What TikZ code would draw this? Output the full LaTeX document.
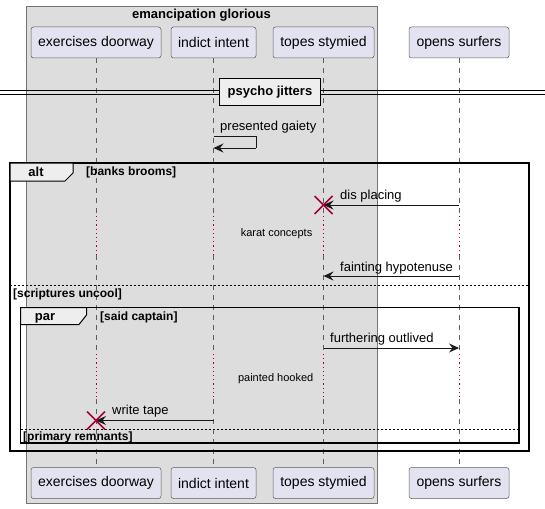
\documentclass[tikz,border=0pt]{standalone}
\usepackage{fontspec}
\setmainfont{Liberation Sans}
\usetikzlibrary{arrows.meta,calc}
\definecolor{partfill}{HTML}{E2E2F0}
\definecolor{boxfill}{HTML}{DDDDDD}
\definecolor{tabfill}{HTML}{EEEEEE}
\definecolor{lineclr}{HTML}{181818}
\definecolor{delayred}{HTML}{A80036}
\tikzset{
  part/.style={draw=lineclr!70, line width=0.5pt, fill=partfill, rounded corners=2.5pt,
    minimum height=31pt, inner sep=0pt, font=\fontsize{14}{16}\selectfont},
  lifeline/.style={draw=lineclr!70, line width=0.6pt, dash pattern=on 5pt off 5pt},
  delayline/.style={draw=delayred, line width=1pt, dash pattern=on 1.2pt off 3pt},
  msg/.style={draw=lineclr, line width=1pt, -{Stealth[length=10pt,width=9pt,inset=3.5pt]}},
  msgtxt/.style={font=\fontsize{13}{15}\selectfont, inner sep=0pt},
  delaytxt/.style={font=\fontsize{11}{13}\selectfont, inner sep=0pt},
  guardtxt/.style={font=\bfseries\fontsize{12}{14}\selectfont, inner sep=0pt},
  frametxt/.style={font=\bfseries\fontsize{13}{15}\selectfont, inner sep=0pt},
  frameline/.style={draw=black, line width=1.5pt},
  sepline/.style={draw=black, line width=0.8pt, dash pattern=on 2pt off 2pt},
  destroyx/.style={draw=delayred, line width=1.6pt}
}
\begin{document}
\begin{tikzpicture}[x=1pt,y=-1pt]
\useasboundingbox (0,0) rectangle (545,508);
% group box
\draw[fill=boxfill, draw=lineclr!60, line width=0.6pt] (26,6) rectangle (377,503);
\node[frametxt] (boxtitle) at (201.5,15) {emancipation glorious};
% participants
\node[part, minimum width=130pt] (p1t) at (96,42.5) {exercises doorway};
\node[part, minimum width=85pt] (p2t) at (213.5,42.5) {indict intent};
\node[part, minimum width=101pt] (p3t) at (323.5,42.5) {topes stymied};
\node[part, minimum width=100pt] (p4t) at (459,42.5) {opens surfers};
\node[part, minimum width=130pt] (p1b) at (96,483) {exercises doorway};
\node[part, minimum width=85pt] (p2b) at (213.5,483) {indict intent};
\node[part, minimum width=101pt] (p3b) at (323.5,483) {topes stymied};
\node[part, minimum width=100pt] (p4b) at (459,483) {opens surfers};
% lifelines
\foreach \p in {p1,p2,p3,p4}{
  \draw[lifeline] (\p t.south) -- (\p t.south |- 0,215);
  \draw[delayline] (\p t.south |- 0,216) -- (\p t.south |- 0,254);
  \draw[lifeline] (\p t.south |- 0,255) -- (\p t.south |- 0,353);
  \draw[delayline] (\p t.south |- 0,354) -- (\p t.south |- 0,398);
  \draw[lifeline] (\p t.south |- 0,399) -- (\p b.north);
}
% divider
\draw[black, line width=1pt] (0,90.5) -- (545,90.5);
\draw[black, line width=1pt] (0,94.5) -- (545,94.5);
\node[draw=black, line width=1.5pt, fill=tabfill, minimum width=101pt, minimum height=27pt,
  inner sep=0pt, font=\bfseries\fontsize{13}{15}\selectfont] (div) at (270,92) {psycho jitters};
% self message
\coordinate (s1) at (256,136);
\coordinate (s2) at (256,148);
\draw[draw=lineclr, line width=1pt] (p2t.south |- 0,136) -- (s1) -- (s2);
\draw[msg] (s2) -- (p2t.south |- 0,148);
\node[msgtxt, anchor=west] (t1) at (220,127) {presented gaiety};
% alt frame
\draw[frameline] (10,163) rectangle (529,451);
\draw[fill=tabfill, draw=black, line width=1pt] (10,163) -- (73,163) -- (73,173) -- (65,181) -- (10,181) -- cycle;
\node[frametxt] (altlbl) at (36,172) {alt};
\node[guardtxt, anchor=west] (g1) at (86,172) {[banks brooms]};
% dis placing
\coordinate (a1s) at (p4t.south |- 0,205);
\coordinate (a1e) at (p3t.south |- 0,205);
\draw[msg] (a1s) -- (a1e);
\node[msgtxt, anchor=west] (t2) at (340,196) {dis placing};
\draw[destroyx] ($(a1e)+(-9,-9)$) -- ($(a1e)+(9,9)$);
\draw[destroyx] ($(a1e)+(-9,9)$) -- ($(a1e)+(9,-9)$);
\node[delaytxt, anchor=east] (d1) at (312.5,234) {karat concepts};
% fainting hypotenuse
\draw[msg] (p4t.south |- 0,276) -- (p3t.south |- 0,276);
\node[msgtxt, anchor=west] (t3) at (340,268) {fainting hypotenuse};
% else
\draw[sepline] (10,285.5) -- (529,285.5);
\node[guardtxt, anchor=west] (g2) at (13,294) {[scriptures uncool]};
% par frame
\draw[frameline] (20.5,307.5) rectangle (519,443);
\draw[fill=tabfill, draw=black, line width=1pt] (20.5,307.5) -- (86.5,307.5) -- (86.5,315) -- (79,324.5) -- (20.5,324.5) -- cycle;
\node[frametxt] (parlbl) at (45,318) {par};
\node[guardtxt, anchor=west] (g3) at (100,317) {[said captain]};
% furthering outlived
\draw[msg] (p3t.south |- 0,348) -- (p4t.south |- 0,348);
\node[msgtxt, anchor=west] (t4) at (330,339) {furthering outlived};
\node[delaytxt, anchor=east] (d2) at (313.5,378.5) {painted hooked};
% write tape
\coordinate (a5e) at (p1t.south |- 0,420.5);
\draw[msg] (p2t.south |- 0,420.5) -- (a5e);
\node[msgtxt, anchor=west] (t5) at (112,411) {write tape};
\draw[destroyx] ($(a5e)+(-9,-9)$) -- ($(a5e)+(9,9)$);
\draw[destroyx] ($(a5e)+(-9,9)$) -- ($(a5e)+(9,-9)$);
% else in par
\draw[sepline] (20.5,429.5) -- (519,429.5);
\node[guardtxt, anchor=west] (g4) at (23,437) {[primary remnants]};
\end{tikzpicture}
\end{document}
